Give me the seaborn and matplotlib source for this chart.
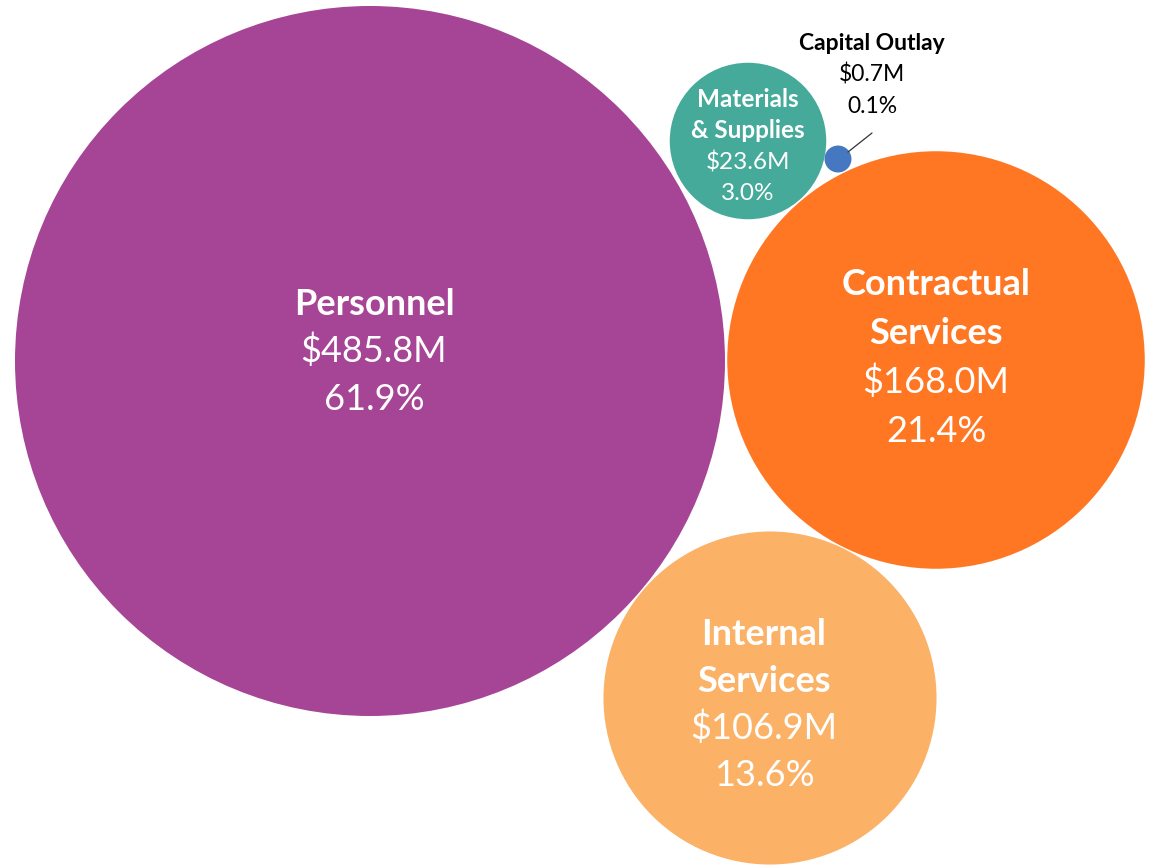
import matplotlib.pyplot as plt
import numpy as np
import pandas as pd
import seaborn as sns

# Data
categories = ["Personnel", "Contractual Services", "Internal Services",
              "Materials & Supplies", "Capital Outlay"]
amounts = [485.8, 168.0, 106.9, 23.6, 0.7]     # $M
shares = [61.9, 21.4, 13.6, 3.0, 0.1]          # percent of total
name_lines = [["Personnel"], ["Contractual", "Services"], ["Internal", "Services"],
              ["Materials", "& Supplies"], ["Capital Outlay"]]

# Layout (pixel coordinates of the bubble centres, y down)
center_x = [370, 936, 770, 748, 838]
center_y = [361, 360, 698, 141, 159]
colors = ["#A64496", "#FF7722", "#FBB166", "#45AA9A", "#4678C1"]

W, H, DPI = 1152, 867, 100
R_MAX = 355  # pixel radius of the largest bubble

sns.set_theme(style="white")
plt.rcParams["font.family"] = ["Lato", "DejaVu Sans"]

df = pd.DataFrame({"category": categories, "amount": amounts, "share": shares,
                   "x": center_x, "y": center_y})

# marker area (pt^2) proportional to amount, so the radius in px = R_MAX*sqrt(v/vmax)
k = (2 * R_MAX * 72 / DPI) ** 2 / max(amounts)
vmin, vmax = min(amounts), max(amounts)

fig = plt.figure(figsize=(W / DPI, H / DPI), dpi=DPI)
ax = fig.add_axes([0, 0, 1, 1])
sns.scatterplot(data=df, x="x", y="y", hue="category", palette=colors,
                size="amount", sizes=(k * vmin, k * vmax), size_norm=(vmin, vmax),
                linewidth=0, legend=False, ax=ax, alpha=1)
ax.set_xlim(0, W)
ax.set_ylim(H, 0)
ax.axis("off")

# Labels: (x, first baseline y, line step, font size, text colour)
label_cfg = [
    (374, 315, 47.5, 26, "white"),
    (936, 295, 49, 26, "white"),
    (764, 645, 47, 26, "white"),
    (748, 107, 31, 17.5, "white"),
    (872, 50, 31.5, 16.5, "black"),
]
for i, (lx, ly, step, fs, tc) in enumerate(label_cfg):
    lines = [(t, "bold") for t in name_lines[i]]
    lines += [(f"${amounts[i]:.1f}M", "normal"), (f"{shares[i]:.1f}%", "normal")]
    for j, (txt, wt) in enumerate(lines):
        ax.text(lx, ly + j * step, txt, ha="center", va="baseline", fontsize=fs,
                fontweight=wt, color=tc)

# leader line for the tiny bubble
ax.plot([848, 872], [152, 133], color="#333333", lw=0.9)

fig.savefig("out.png", dpi=DPI)
